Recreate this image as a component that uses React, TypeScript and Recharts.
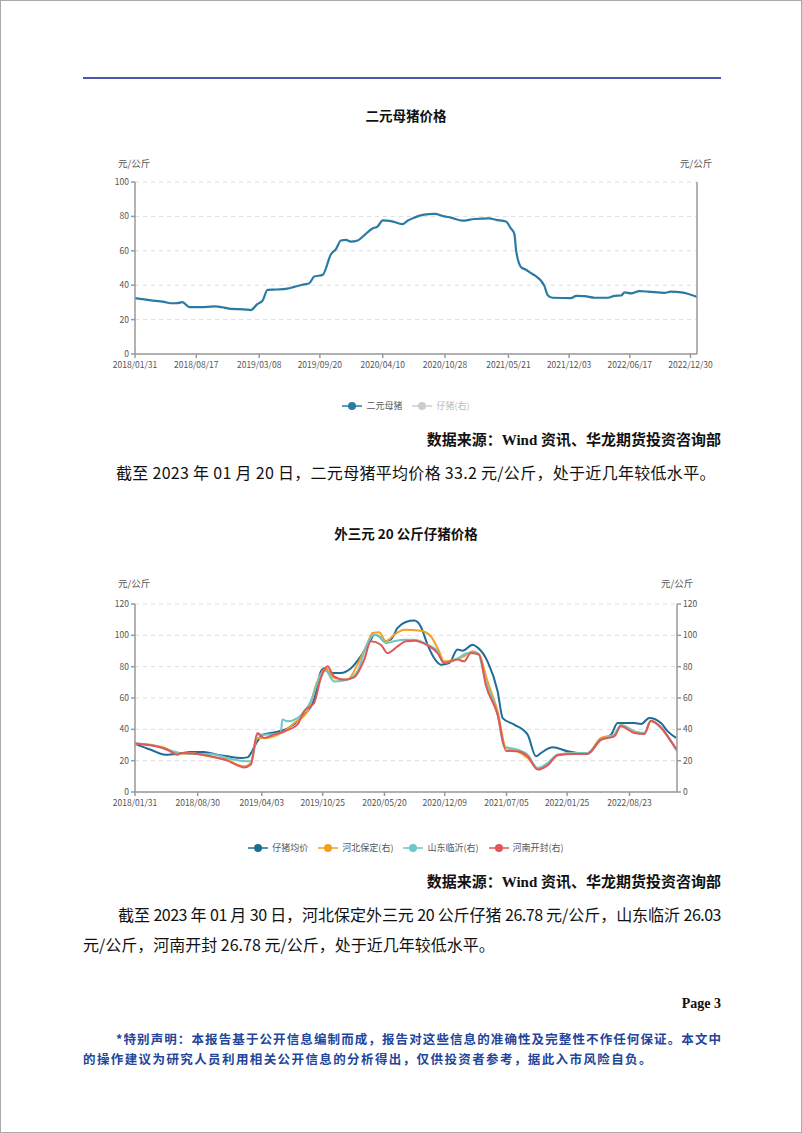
import { LineChart, Line, XAxis, YAxis, CartesianGrid } from "recharts";

const FONT = '"Noto Sans CJK SC", "Noto Sans", sans-serif';
const SERIF = '"Liberation Serif", "Noto Sans CJK SC", serif';

// 二元母猪价格 (元/公斤)
const sowPrice: [string, number][] = [
  ["2018-01-31", 32.5], ["2018-03-23", 31.2], ["2018-05-05", 30.3], ["2018-05-26", 29.5],
  ["2018-06-17", 29.6], ["2018-07-03", 30.2], ["2018-07-25", 27.3], ["2018-08-31", 27.2],
  ["2018-10-13", 27.7], ["2018-11-15", 27.0], ["2018-12-06", 26.2], ["2019-01-18", 26.0],
  ["2019-02-09", 25.5], ["2019-03-02", 29.0], ["2019-03-19", 31.0], ["2019-04-04", 37.3],
  ["2019-05-06", 37.5], ["2019-06-07", 38.0], ["2019-06-29", 39.0], ["2019-07-31", 40.5],
  ["2019-08-16", 41.0], ["2019-09-02", 45.0], ["2019-09-29", 46.0], ["2019-10-26", 58.0],
  ["2019-11-11", 61.0], ["2019-11-27", 66.0], ["2019-12-13", 66.3], ["2019-12-29", 65.3],
  ["2020-01-20", 66.0], ["2020-02-10", 69.0], ["2020-03-08", 73.0], ["2020-03-24", 74.0],
  ["2020-04-10", 77.7], ["2020-05-07", 77.3], ["2020-06-13", 75.5], ["2020-06-29", 77.5],
  ["2020-07-21", 79.3], ["2020-08-22", 81.0], ["2020-09-24", 81.5], ["2020-10-26", 80.0],
  ["2020-11-16", 79.3], ["2020-12-24", 77.5], ["2021-01-31", 78.5], ["2021-03-20", 78.8],
  ["2021-04-11", 78.0], ["2021-05-13", 77.0], ["2021-05-29", 73.0], ["2021-06-09", 70.0],
  ["2021-06-15", 60.0], ["2021-07-01", 50.5], ["2021-07-17", 49.0], ["2021-08-02", 47.0],
  ["2021-08-13", 45.8], ["2021-09-14", 39.6], ["2021-09-25", 34.2], ["2021-10-11", 32.7],
  ["2021-12-09", 32.5], ["2021-12-26", 33.8], ["2022-01-21", 33.7], ["2022-02-23", 32.7],
  ["2022-04-07", 32.7], ["2022-04-29", 33.8], ["2022-05-20", 34.0], ["2022-05-31", 35.8],
  ["2022-06-21", 35.2], ["2022-07-18", 36.5], ["2022-08-14", 36.3], ["2022-10-07", 35.5],
  ["2022-10-28", 36.3], ["2022-11-30", 35.8], ["2022-12-21", 35.0], ["2023-01-20", 33.2],
];

// 外三元20公斤仔猪价格 (元/公斤)
const pigletAvg: [string, number][] = [
  ["2018-01-31", 30.9], ["2018-03-25", 27.0], ["2018-05-14", 23.8], ["2018-06-23", 24.3],
  ["2018-08-07", 25.5], ["2018-09-20", 25.5], ["2018-11-04", 23.8], ["2018-12-08", 22.8],
  ["2019-01-22", 21.7], ["2019-02-13", 22.1], ["2019-03-19", 32.3], ["2019-04-05", 36.6],
  ["2019-05-14", 38.0], ["2019-06-28", 40.4], ["2019-08-12", 47.2], ["2019-09-26", 59.0],
  ["2019-10-19", 77.0], ["2019-10-30", 79.0], ["2019-11-21", 76.0], ["2019-12-25", 76.0],
  ["2020-01-28", 79.0], ["2020-03-01", 86.6], ["2020-04-04", 97.2], ["2020-04-15", 100.4],
  ["2020-05-02", 99.4], ["2020-05-19", 96.2], ["2020-06-10", 97.2], ["2020-07-03", 104.7],
  ["2020-07-31", 108.5], ["2020-08-28", 109.4], ["2020-09-19", 105.7], ["2020-10-12", 94.0],
  ["2020-11-03", 85.5], ["2020-11-26", 81.3], ["2020-12-24", 82.3], ["2021-01-21", 90.9],
  ["2021-02-07", 90.2], ["2021-03-13", 94.0], ["2021-03-29", 92.3], ["2021-05-02", 83.4],
  ["2021-06-05", 64.3], ["2021-06-22", 47.2], ["2021-07-31", 43.0], ["2021-09-14", 36.6],
  ["2021-10-12", 22.8], ["2021-10-29", 24.9], ["2021-12-07", 28.5], ["2022-01-27", 26.0],
  ["2022-03-01", 24.9], ["2022-04-04", 24.9], ["2022-05-19", 33.4], ["2022-06-22", 36.6],
  ["2022-07-14", 44.0], ["2022-09-08", 44.0], ["2022-10-01", 43.4], ["2022-10-29", 47.2],
  ["2022-12-07", 44.0], ["2022-12-30", 38.7], ["2023-01-27", 34.5],
];

const hebeiBaoding: [string, number][] = [
  ["2018-01-31", 31.0], ["2018-03-25", 29.8], ["2018-05-14", 28.0], ["2018-06-23", 24.3],
  ["2018-08-07", 24.9], ["2018-09-20", 23.4], ["2018-11-04", 21.7], ["2018-12-08", 20.6],
  ["2019-01-11", 17.4], ["2019-02-02", 16.4], ["2019-02-25", 18.5], ["2019-03-19", 34.5],
  ["2019-04-11", 34.5], ["2019-05-14", 35.5], ["2019-06-17", 38.7], ["2019-07-21", 44.0],
  ["2019-09-04", 51.5], ["2019-10-07", 70.6], ["2019-11-04", 79.0], ["2019-12-02", 72.8],
  ["2020-01-16", 71.7], ["2020-02-19", 81.3], ["2020-03-24", 95.0], ["2020-04-10", 101.5],
  ["2020-05-02", 102.0], ["2020-05-25", 96.2], ["2020-06-22", 100.4], ["2020-07-25", 103.6],
  ["2020-09-19", 103.0], ["2020-10-23", 99.4], ["2020-11-20", 89.8], ["2020-12-07", 83.4],
  ["2021-01-10", 84.5], ["2021-02-12", 86.6], ["2021-03-13", 89.8], ["2021-04-04", 87.7],
  ["2021-05-02", 70.6], ["2021-06-05", 51.5], ["2021-07-03", 28.1], ["2021-08-11", 26.0],
  ["2021-09-14", 21.7], ["2021-10-18", 15.3], ["2021-11-20", 17.4], ["2021-12-24", 23.8],
  ["2022-02-18", 24.9], ["2022-04-04", 24.9], ["2022-05-19", 34.5], ["2022-07-03", 36.6],
  ["2022-07-25", 43.0], ["2022-09-08", 38.7], ["2022-10-12", 37.7], ["2022-11-03", 45.1],
  ["2022-12-07", 40.9], ["2023-01-10", 32.3], ["2023-01-30", 26.8],
];

const shandongLinyi: [string, number][] = [
  ["2018-01-31", 31.0], ["2018-03-25", 30.2], ["2018-05-20", 27.0], ["2018-07-04", 24.9],
  ["2018-08-29", 24.3], ["2018-10-13", 24.3], ["2018-12-08", 21.7], ["2019-01-22", 20.0],
  ["2019-02-25", 19.6], ["2019-03-19", 36.6], ["2019-04-11", 36.6], ["2019-06-06", 37.7],
  ["2019-06-11", 46.2], ["2019-06-28", 45.1], ["2019-08-01", 47.2], ["2019-09-15", 57.9],
  ["2019-10-19", 74.9], ["2019-11-04", 77.4], ["2019-12-02", 70.6], ["2020-01-16", 71.7],
  ["2020-02-19", 77.0], ["2020-03-24", 95.0], ["2020-04-15", 100.4], ["2020-05-08", 98.3],
  ["2020-05-25", 95.0], ["2020-06-22", 96.2], ["2020-07-25", 97.2], ["2020-08-28", 97.2],
  ["2020-10-12", 94.0], ["2020-11-15", 89.8], ["2020-12-07", 82.3], ["2021-01-21", 85.1],
  ["2021-02-24", 88.7], ["2021-03-29", 88.7], ["2021-04-26", 70.6], ["2021-06-05", 49.4],
  ["2021-06-27", 29.1], ["2021-08-11", 27.0], ["2021-09-14", 23.8], ["2021-10-18", 15.3],
  ["2021-11-20", 18.5], ["2021-12-24", 23.8], ["2022-02-18", 24.9], ["2022-04-04", 24.9],
  ["2022-05-19", 33.4], ["2022-07-03", 36.6], ["2022-07-25", 42.6], ["2022-09-08", 38.7],
  ["2022-10-12", 37.7], ["2022-11-03", 45.5], ["2022-12-07", 40.9], ["2023-01-10", 32.3],
  ["2023-01-30", 26.0],
];

const henanKaifeng: [string, number][] = [
  ["2018-01-31", 31.0], ["2018-03-25", 29.8], ["2018-05-20", 27.0], ["2018-06-23", 23.8],
  ["2018-07-04", 24.9], ["2018-08-29", 24.3], ["2018-10-13", 22.8], ["2018-12-08", 20.0],
  ["2019-01-11", 17.0], ["2019-02-02", 15.7], ["2019-02-25", 17.4], ["2019-03-19", 37.7],
  ["2019-04-11", 34.5], ["2019-05-14", 36.6], ["2019-06-23", 39.1], ["2019-08-01", 43.0],
  ["2019-08-23", 51.5], ["2019-09-26", 56.8], ["2019-10-19", 72.8], ["2019-11-10", 80.2],
  ["2019-12-02", 73.8], ["2020-01-05", 71.7], ["2020-02-08", 73.2], ["2020-03-13", 84.5],
  ["2020-04-04", 96.2], ["2020-05-08", 94.0], ["2020-05-30", 88.7], ["2020-07-03", 93.0],
  ["2020-07-31", 96.2], ["2020-08-28", 96.6], ["2020-10-12", 93.6], ["2020-11-15", 88.7],
  ["2020-12-07", 82.3], ["2021-01-21", 84.5], ["2021-02-12", 83.4], ["2021-03-07", 88.7],
  ["2021-04-04", 87.7], ["2021-04-26", 68.5], ["2021-06-05", 49.4], ["2021-07-03", 26.4],
  ["2021-08-11", 26.0], ["2021-09-14", 22.8], ["2021-10-18", 14.3], ["2021-11-20", 17.0],
  ["2021-12-24", 23.4], ["2022-02-18", 24.3], ["2022-04-04", 24.3], ["2022-05-19", 33.4],
  ["2022-07-03", 35.5], ["2022-07-25", 41.9], ["2022-09-08", 37.7], ["2022-10-12", 37.0],
  ["2022-11-03", 45.5], ["2022-12-07", 41.3], ["2023-01-10", 32.3], ["2023-01-30", 26.8],
];

const sowTicks = ["2018-01-31", "2018-08-17", "2019-03-08", "2019-09-20", "2020-04-10", "2020-10-28", "2021-05-21", "2021-12-03", "2022-06-17", "2022-12-30"];
const pigletTicks = ["2018-01-31", "2018-08-30", "2019-04-03", "2019-10-25", "2020-05-20", "2020-12-09", "2021-07-05", "2022-01-25", "2022-08-23"];
const sowYTicks = [0, 20, 40, 60, 80, 100];
const pigletYTicks = [0, 20, 40, 60, 80, 100, 120];

const toTime = (s: string) => {
  const [y, m, d] = s.split("-").map(Number);
  return Date.UTC(y, m - 1, d);
};
const fmtDate = (t: number) => {
  const d = new Date(t);
  const p = (n: number) => String(n).padStart(2, "0");
  return `${d.getUTCFullYear()}/${p(d.getUTCMonth() + 1)}/${p(d.getUTCDate())}`;
};
const toPoints = (rows: [string, number][]) => rows.map(([d, v]) => ({ t: toTime(d), v }));

const tickStyle = { fontSize: 8.5, fill: "#555", fontFamily: FONT };
const axisStroke = "#999";

function SowChart() {
  return (
    <LineChart width={700} height={213} margin={{ top: 11, right: 54, bottom: 0, left: 14 }}>
      <CartesianGrid vertical={false} stroke="#ddd" strokeDasharray="4 4" />
      <XAxis
        type="number"
        dataKey="t"
        domain={[toTime("2018-01-31"), toTime("2023-01-20")]}
        ticks={sowTicks.map(toTime)}
        tickFormatter={fmtDate}
        allowDataOverflow
        height={30}
        tick={tickStyle}
        tickSize={4}
        tickMargin={4}
        stroke={axisStroke}
        strokeWidth={1.5}
      />
      <YAxis
        domain={[0, 100]}
        ticks={sowYTicks}
        width={60}
        tick={tickStyle}
        tickSize={4}
        tickMargin={2}
        stroke={axisStroke}
        strokeWidth={1.5}
      />
      <YAxis yAxisId="right" orientation="right" domain={[0, 100]} tick={false} tickLine={false} width={10} stroke={axisStroke} strokeWidth={1.5} />
      <Line
        data={toPoints(sowPrice)}
        dataKey="v"
        type="monotone"
        stroke="#2a7aa3"
        strokeWidth={2.2}
        dot={false}
        isAnimationActive={false}
      />
    </LineChart>
  );
}

const pigletSeries = [
  { name: "仔猪均价", rows: pigletAvg, color: "#1d6c9a" },
  { name: "河北保定(右)", rows: hebeiBaoding, color: "#f5a021" },
  { name: "山东临沂(右)", rows: shandongLinyi, color: "#6ec7c4" },
  { name: "河南开封(右)", rows: henanKaifeng, color: "#e0565a" },
];

function PigletChart() {
  return (
    <LineChart width={700} height={231} margin={{ top: 13, right: 44, bottom: 0, left: 14 }}>
      <CartesianGrid vertical={false} stroke="#ddd" strokeDasharray="4 4" />
      <XAxis
        type="number"
        dataKey="t"
        domain={[toTime("2018-01-31"), toTime("2023-01-30")]}
        ticks={pigletTicks.map(toTime)}
        tickFormatter={fmtDate}
        allowDataOverflow
        height={30}
        tick={tickStyle}
        tickSize={4}
        tickMargin={4}
        stroke={axisStroke}
        strokeWidth={1.5}
      />
      <YAxis
        domain={[0, 120]}
        ticks={pigletYTicks}
        width={60}
        tick={tickStyle}
        tickSize={4}
        tickMargin={2}
        stroke={axisStroke}
        strokeWidth={1.5}
      />
      <YAxis
        yAxisId="right"
        orientation="right"
        domain={[0, 120]}
        ticks={pigletYTicks}
        width={40}
        tick={tickStyle}
        tickSize={4}
        tickMargin={2}
        stroke={axisStroke}
        strokeWidth={1.5}
      />
      {pigletSeries.map((s, i) => (
        <Line
          key={s.name}
          yAxisId={i === 0 ? 0 : "right"}
          data={toPoints(s.rows)}
          dataKey="v"
          name={s.name}
          type="monotone"
          stroke={s.color}
          strokeWidth={2}
          dot={false}
          isAnimationActive={false}
        />
      ))}
    </LineChart>
  );
}

function LegendRow({ items, top }: { items: { name: string; color: string; textColor?: string }[]; top: number }) {
  return (
    <div style={{ position: "absolute", top, left: 10, width: 790, display: "flex", justifyContent: "center", gap: 10, fontFamily: FONT, fontSize: 9 }}>
      {items.map((it) => (
        <div key={it.name} style={{ display: "flex", alignItems: "center", gap: 4 }}>
          <svg width={20} height={10}>
            <line x1={0} y1={5} x2={20} y2={5} stroke={it.color} strokeWidth={1.5} />
            <circle cx={10} cy={5} r={4} fill={it.color} />
          </svg>
          <span style={{ color: it.textColor ?? "#555" }}>{it.name}</span>
        </div>
      ))}
    </div>
  );
}

const abs = (top: number, left: number, extra: React.CSSProperties = {}): React.CSSProperties => ({
  position: "absolute",
  top,
  left,
  whiteSpace: "nowrap",
  ...extra,
});

export default function App() {
  const unit = { fontFamily: FONT, fontSize: 9.5, color: "#555" };
  const title = { fontFamily: FONT, fontSize: 13.5, fontWeight: 700, color: "#111", width: 646, textAlign: "center" as const };
  const source = { fontFamily: SERIF, fontSize: 15, fontWeight: 700, color: "#111", width: 638, textAlign: "right" as const };
  const body = { fontFamily: FONT, fontSize: 16, color: "#111" };
  const notice = { fontFamily: FONT, fontSize: 12.5, fontWeight: 700, color: "#23459a", letterSpacing: 0.9 };

  return (
    <div style={{ position: "absolute", top: 0, left: 0, width: 800, height: 1131, border: "1px solid #aaa", background: "#fff", overflow: "hidden" }}>
      <div style={{ position: "absolute", top: 76, left: 82, width: 638, height: 2, background: "#4a57a8" }} />

      <div style={abs(104, 82, title)}>二元母猪价格</div>
      <div style={abs(155, 117, unit)}>元/公斤</div>
      <div style={abs(155, 679, unit)}>元/公斤</div>
      <div style={abs(170, 60)}>
        <SowChart />
      </div>
      <LegendRow
        top={398}
        items={[
          { name: "二元母猪", color: "#2a7aa3" },
          { name: "仔猪(右)", color: "#ccc", textColor: "#bbb" },
        ]}
      />
      <div style={abs(427, 82, source)}>数据来源：Wind 资讯、华龙期货投资咨询部</div>
      <div style={abs(459, 115, { ...body, letterSpacing: 0.3 })}>截至 2023 年 01 月 20 日，二元母猪平均价格 33.2 元/公斤，处于近几年较低水平。</div>

      <div style={abs(522, 82, title)}>外三元 20 公斤仔猪价格</div>
      <div style={abs(575, 117, unit)}>元/公斤</div>
      <div style={abs(575, 660, unit)}>元/公斤</div>
      <div style={abs(590, 60)}>
        <PigletChart />
      </div>
      <LegendRow top={840} items={pigletSeries.map((s) => ({ name: s.name, color: s.color }))} />
      <div style={abs(869, 82, source)}>数据来源：Wind 资讯、华龙期货投资咨询部</div>
      <div style={abs(901, 82, { ...body, width: 638, textIndent: 35, letterSpacing: -0.5, textAlign: "justify", textAlignLast: "justify" })}>
        截至 2023 年 01 月 30 日，河北保定外三元 20 公斤仔猪 26.78 元/公斤，山东临沂 26.03
      </div>
      <div style={abs(931, 82, body)}>元/公斤，河南开封 26.78 元/公斤，处于近几年较低水平。</div>

      <div style={abs(995, 82, { fontFamily: SERIF, fontSize: 14, fontWeight: 700, width: 638, textAlign: "right", color: "#111" })}>Page 3</div>
      <div style={abs(1028, 82, { ...notice, width: 638, textIndent: 33, textAlign: "justify", textAlignLast: "justify", letterSpacing: 0 })}>
        *特别声明：本报告基于公开信息编制而成，报告对这些信息的准确性及完整性不作任何保证。本文中
      </div>
      <div style={abs(1048, 82, { ...notice, letterSpacing: 1.4 })}>的操作建议为研究人员利用相关公开信息的分析得出，仅供投资者参考，据此入市风险自负。</div>
    </div>
  );
}
